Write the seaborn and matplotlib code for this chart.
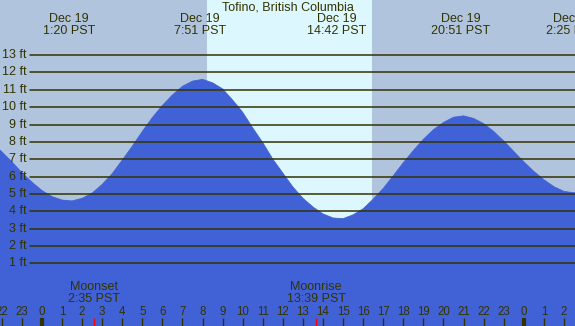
import matplotlib
matplotlib.use("Agg")
import matplotlib.pyplot as plt
import matplotlib.transforms as mtransforms
import numpy as np
import pandas as pd
import seaborn as sns

# ---- data (hours relative to midnight of Dec 19, heights in ft) ----
hours = [-2.5, -2.0, -1.5, -1.0, -0.5, 0.0, 0.5, 1.0, 1.5, 2.0, 2.5, 3.0, 3.5, 4.0,
         4.5, 5.0, 5.5, 6.0, 6.5, 7.0, 7.5, 8.0, 8.5, 9.0, 9.5, 10.0, 10.5, 11.0,
         11.5, 12.0, 12.5, 13.0, 13.5, 14.0, 14.5, 15.0, 15.5, 16.0, 16.5, 17.0,
         17.5, 18.0, 18.5, 19.0, 19.5, 20.0, 20.5, 21.0, 21.5, 22.0, 22.5, 23.0,
         23.5, 24.0, 24.5, 25.0, 25.5, 26.0, 26.5, 27.0]
heights = [7.95, 7.43, 6.85, 6.23, 5.68, 5.20, 4.85, 4.65, 4.60, 4.75, 5.05, 5.55,
           6.17, 6.95, 7.75, 8.60, 9.40, 10.10, 10.70, 11.20, 11.50, 11.60, 11.40,
           11.05, 10.40, 9.70, 8.80, 7.95, 7.00, 6.20, 5.40, 4.75, 4.25, 3.85,
           3.62, 3.58, 3.80, 4.15, 4.70, 5.32, 6.05, 6.80, 7.50, 8.15, 8.70, 9.12,
           9.42, 9.50, 9.35, 9.05, 8.60, 8.05, 7.45, 6.85, 6.30, 5.82, 5.42, 5.15,
           5.07, 5.10]

event_hours = [1.33, 7.85, 14.70, 20.85, 26.42]
event_dates = ["Dec 19", "Dec 19", "Dec 19", "Dec 19", "Dec 20"]
event_times = ["1:20 PST", "7:51 PST", "14:42 PST", "20:51 PST", "2:25 PST"]

moon_hours = [2.58, 13.65]
moon_names = ["Moonset", "Moonrise"]
moon_times = ["2:35 PST", "13:39 PST"]

sunrise, sunset = 8.22, 16.43
ft_levels = list(range(1, 14))
hour_ticks = list(range(-2, 27))
hour_labels = [str(h % 24) for h in hour_ticks]
title = "Tofino, British Columbia"

# ---- style ----
sns.set_style("white")
plt.rcParams["font.family"] = ["Liberation Sans", "DejaVu Sans"]
TXT = "#333300"
BG = "#B0C4DE"
DAY = "#DDF7FE"
WATER = "#4161D7"
FS = 9
FS_H = 8.3

W, H = 575, 326
fig = plt.figure(figsize=(W / 100, H / 100), dpi=100)
ax = fig.add_axes([0, 0, 1, 1])
ax.set_facecolor(BG)
ax.set_axisbelow(False)
xmin, xmax = -2.09, 26.55
ymin, ymax = -2.60, 16.17
ax.set_xlim(xmin, xmax)
ax.set_ylim(ymin, ymax)

ax.axvspan(sunrise, sunset, color=DAY, zorder=0, lw=0)

df = pd.DataFrame({"hour": hours, "height": heights})
ax.fill_between(df["hour"], df["height"], ymin, color=WATER, lw=0, zorder=1)
sns.lineplot(data=df, x="hour", y="height", ax=ax, color=WATER, lw=0.6, zorder=1,
             legend=False)

# horizontal ft lines + labels
line_start = 29.5 / W
lbl_tr = mtransforms.blended_transform_factory(ax.transAxes, ax.transData)
for f in ft_levels:
    ax.axhline(f, xmin=line_start, xmax=1, color=TXT, lw=1.1, zorder=3)
    ax.text(27 / W, f, f"{f} ft", transform=lbl_tr, ha="right", va="center",
            fontsize=FS, color=TXT, zorder=4)

# top event labels
top_tr = mtransforms.blended_transform_factory(ax.transData, ax.transAxes)
for h, d, t in zip(event_hours, event_dates, event_times):
    ax.text(h, 1 - 19.5 / H, d, transform=top_tr, ha="center", va="center",
            fontsize=FS, color=TXT, zorder=4, clip_on=False)
    ax.text(h, 1 - 31.5 / H, t, transform=top_tr, ha="center", va="center",
            fontsize=FS, color=TXT, zorder=4, clip_on=False)
ax.text(0.5, 1 - 7.5 / H, title, transform=ax.transAxes, ha="center",
        va="center", fontsize=FS, color=TXT, zorder=4)

# moon labels
for h, n, t in zip(moon_hours, moon_names, moon_times):
    ax.text(h, 1 - 287 / H, n, transform=top_tr, ha="center", va="center",
            fontsize=FS, color=TXT, zorder=4)
    ax.text(h, 1 - 298.5 / H, t, transform=top_tr, ha="center", va="center",
            fontsize=FS, color=TXT, zorder=4)
    ax.vlines(h, 0, 8 / H, transform=top_tr, color="red", lw=1, zorder=4)

# hour ticks
ax.set_xticks(hour_ticks)
ax.set_xticklabels([])
ax.set_yticks([])
ax.tick_params(axis="x", direction="in", length=5.8, width=1, color=TXT,
               bottom=True, top=False)
for tk, h in zip(ax.xaxis.get_major_ticks(), hour_ticks):
    if h % 24 == 0:
        tk.tick1line.set_markeredgewidth(3)
for h, lab in zip(hour_ticks, hour_labels):
    ax.text(h, 1 - 311.7 / H, lab, transform=top_tr, ha="center", va="center",
            fontsize=FS_H, color=TXT, zorder=4)

for s in ax.spines.values():
    s.set_visible(False)

fig.savefig("out.png", dpi=100, facecolor=BG)
